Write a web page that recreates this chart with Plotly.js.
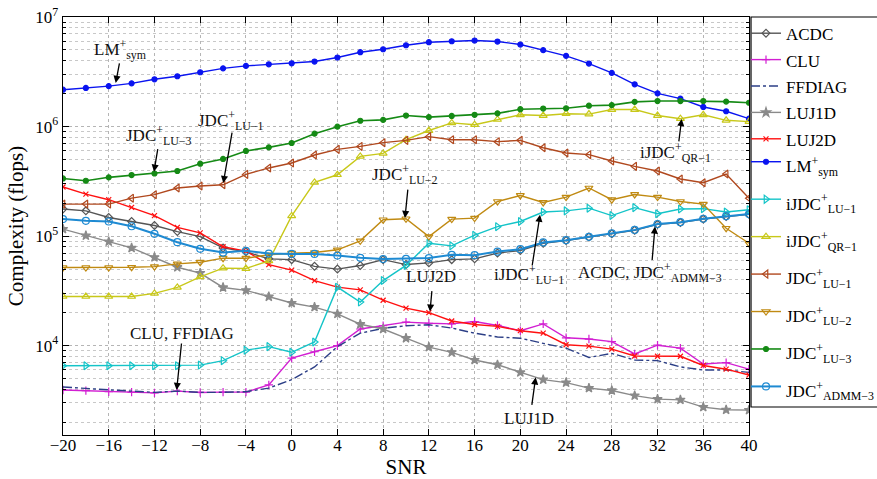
<!DOCTYPE html>
<html>
<head>
<meta charset="utf-8">
<script src="https://cdn.plot.ly/plotly-3.0.1.min.js"></script>
<style>html,body{margin:0;padding:0;background:#fff;}#chart{width:877px;height:479px;}</style>
</head>
<body>
<div id="chart"></div>
<script>
// SNR values (x axis)
const snr = [-20,-18,-16,-14,-12,-10,-8,-6,-4,-2,0,2,4,6,8,10,12,14,16,18,20,22,24,26,28,30,32,34,36,38,40];

// Complexity (flops) per algorithm
const acdc = [1.77e5,1.70e5,1.48e5,1.36e5,1.25e5,1.10e5,9.9e4,7.8e4,7.2e4,6.2e4,6.1e4,5.3e4,5.0e4,5.4e4,6.1e4,5.5e4,5.7e4,6.1e4,6.2e4,7.0e4,7.4e4,8.6e4,9.1e4,9.8e4,1.05e5,1.13e5,1.28e5,1.33e5,1.43e5,1.51e5,1.58e5];
const clu = [3.94e3,3.89e3,3.80e3,3.77e3,3.71e3,3.85e3,3.74e3,3.77e3,3.77e3,4.38e3,7.7e3,8.8e3,1.0e4,1.42e4,1.52e4,1.64e4,1.60e4,1.58e4,1.66e4,1.53e4,1.37e4,1.58e4,1.18e4,1.15e4,1.09e4,8.4e3,1.01e4,9.5e3,6.8e3,7.0e3,6.1e3];
const ffdiag = [4.2e3,4.05e3,3.95e3,3.85e3,3.75e3,3.85e3,3.75e3,3.75e3,3.8e3,4.1e3,4.9e3,6.4e3,9.8e3,1.30e4,1.44e4,1.52e4,1.55e4,1.45e4,1.30e4,1.20e4,1.17e4,1.05e4,9.5e3,7.8e3,8.5e3,7.4e3,7.3e3,6.4e3,6.0e3,6.0e3,5.7e3];
const luj1d = [1.16e5,1.01e5,8.9e4,7.8e4,6.4e4,5.2e4,4.6e4,3.4e4,3.2e4,2.8e4,2.45e4,2.25e4,1.95e4,1.57e4,1.42e4,1.17e4,9.7e3,8.7e3,7.4e3,6.7e3,5.7e3,4.9e3,4.6e3,4.1e3,3.9e3,3.5e3,3.25e3,3.2e3,2.75e3,2.6e3,2.58e3];
const luj2d = [2.81e5,2.42e5,2.15e5,1.83e5,1.54e5,1.20e5,1.07e5,8.0e4,7.3e4,5.5e4,4.9e4,3.93e4,3.42e4,3.23e4,2.6e4,2.2e4,2.0e4,1.68e4,1.56e4,1.5e4,1.37e4,1.30e4,1.02e4,9.9e3,9.3e3,8.05e3,8.0e3,8.0e3,6.6e3,6.1e3,5.4e3];
const lmsym = [2.17e6,2.25e6,2.34e6,2.48e6,2.70e6,2.88e6,3.13e6,3.40e6,3.58e6,3.70e6,3.78e6,3.92e6,4.27e6,4.77e6,5.08e6,5.52e6,5.89e6,6.01e6,6.10e6,5.97e6,5.61e6,4.98e6,4.42e6,3.76e6,3.09e6,2.43e6,2.01e6,1.80e6,1.51e6,1.38e6,1.18e6];
const ijdcLu1 = [6.56e3,6.56e3,6.56e3,6.56e3,6.56e3,6.56e3,6.65e3,7.3e3,9.1e3,9.8e3,8.7e3,1.08e4,3.42e4,2.5e4,3.93e4,5.4e4,8.6e4,8.15e4,1.02e5,1.22e5,1.36e5,1.66e5,1.70e5,1.80e5,1.54e5,1.82e5,1.60e5,1.77e5,1.78e5,1.66e5,1.74e5];
const ijdcQr1 = [2.81e4,2.81e4,2.81e4,2.81e4,3.0e4,3.4e4,4.25e4,5.1e4,5.06e4,5.95e4,1.53e5,3.09e5,3.63e5,5.34e5,5.69e5,7.6e5,9.2e5,1.08e6,1.04e6,1.16e6,1.28e6,1.26e6,1.31e6,1.30e6,1.43e6,1.43e6,1.26e6,1.18e6,1.28e6,1.14e6,1.11e6];
const jdcLu1 = [1.96e5,1.96e5,1.96e5,2.22e5,2.39e5,2.75e5,2.87e5,2.94e5,3.66e5,4.19e5,4.65e5,5.50e5,6.19e5,6.59e5,7.13e5,7.48e5,8.09e5,7.59e5,7.59e5,7.28e5,7.48e5,6.41e5,5.74e5,5.54e5,4.85e5,4.33e5,3.93e5,3.32e5,3.07e5,3.69e5,2.22e5];
const jdcLu2 = [5.17e4,5.17e4,5.17e4,5.2e4,5.27e4,5.58e4,5.78e4,6.29e4,6.29e4,6.75e4,6.98e4,7.08e4,7.5e4,9.06e4,1.41e5,1.44e5,9.9e4,1.43e5,1.46e5,2.07e5,2.35e5,2.03e5,2.27e5,2.75e5,2.15e5,2.40e5,2.27e5,2.07e5,1.96e5,1.18e5,8.6e4];
const jdcLu3 = [3.36e5,3.20e5,3.44e5,3.61e5,3.73e5,3.93e5,4.58e5,5.06e5,5.99e5,6.46e5,7.08e5,8.61e5,9.98e5,1.13e6,1.15e6,1.26e6,1.22e6,1.25e6,1.28e6,1.32e6,1.44e6,1.46e6,1.47e6,1.55e6,1.57e6,1.68e6,1.71e6,1.71e6,1.71e6,1.69e6,1.65e6];
const jdcAdmm3 = [1.43e5,1.38e5,1.36e5,1.23e5,1.05e5,8.8e4,7.66e4,7.08e4,7.34e4,6.93e4,6.88e4,6.88e4,6.65e4,6.34e4,6.17e4,6.2e4,6.3e4,6.75e4,6.7e4,7.23e4,7.6e4,8.75e4,9.19e4,9.86e4,1.06e5,1.14e5,1.29e5,1.34e5,1.44e5,1.52e5,1.59e5];

const xTicks = [-20,-16,-12,-8,-4,0,4,8,12,16,20,24,28,32,36,40];
const yTicks = [1e3,1e4,1e5,1e6,1e7];
const yTickText = ['10<sup>3</sup>','10<sup>4</sup>','10<sup>5</sup>','10<sup>6</sup>','10<sup>7</sup>'];

const FONT = 'Liberation Serif, Times New Roman, serif';
const W = 877, H = 479;

function tr(name, y, color, symbol, opts) {
  opts = opts || {};
  return {
    x: snr, y: y, name: name, type: 'scatter', mode: opts.mode || 'lines+markers',
    legend: opts.legend || 'legend',
    line: {color: color, width: opts.width || 1.4, dash: opts.dash || 'solid'},
    marker: {symbol: symbol, size: opts.size || 6, color: color, line: {color: color, width: 1.2}}
  };
}
function sm(t){ return '<span style="font-size:17px">' + t + '</span>'; }

const data = [
  tr(sm('ACDC'), acdc, '#555555', 'diamond-open', {size: 6}),
  tr(sm('CLU'), clu, '#d21fd2', 'cross-thin-open', {size: 6}),
  tr(sm('FFDIAG'), ffdiag, '#2c3f86', 'circle', {mode: 'lines', dash: 'dashdot'}),
  tr(sm('LUJ1D'), luj1d, '#8a8a8a', 'star', {size: 7}),
  tr(sm('LUJ2D'), luj2d, '#ff1010', 'x-thin-open', {size: 5}),
  tr(sm('LM<sup>+</sup><sub>sym</sub>'), lmsym, '#0a14f0', 'circle', {size: 5, legend: 'legend2'}),
  tr(sm('iJDC<sup>+</sup><sub>LU\u22121</sub>'), ijdcLu1, '#14c4c8', 'triangle-right-open', {size: 7, legend: 'legend2'}),
  tr(sm('iJDC<sup>+</sup><sub>QR\u22121</sub>'), ijdcQr1, '#c8c81a', 'triangle-up-open', {size: 7, legend: 'legend2'}),
  tr(sm('JDC<sup>+</sup><sub>LU\u22121</sub>'), jdcLu1, '#b0481e', 'triangle-left-open', {size: 7, legend: 'legend2'}),
  tr(sm('JDC<sup>+</sup><sub>LU\u22122</sub>'), jdcLu2, '#c08a12', 'triangle-down-open', {size: 7, legend: 'legend2'}),
  tr(sm('JDC<sup>+</sup><sub>LU\u22123</sub>'), jdcLu3, '#158a15', 'circle', {size: 5, width: 1.6, legend: 'legend2'}),
  tr(sm('JDC<sup>+</sup><sub>ADMM\u22123</sub>'), jdcAdmm3, '#1e8ad2', 'circle-open', {size: 7, width: 2, legend: 'legend2'})
];

function lg(v){ return Math.log10(v); }
const labels = [
  ['LM<sup>+</sup><sub>sym</sub>', -15.0, 5.1e6],
  ['JDC<sup>+</sup><sub>LU\u22123</sub>', -11.6, 8.3e5],
  ['JDC<sup>+</sup><sub>LU\u22121</sub>', -5.3, 1.13e6],
  ['JDC<sup>+</sup><sub>LU\u22122</sub>', 9.9, 3.65e5],
  ['iJDC<sup>+</sup><sub>QR\u22121</sub>', 33.6, 5.8e5],
  ['iJDC<sup>+</sup><sub>LU\u22121</sub>', 20.8, 4.43e4],
  ['ACDC, JDC<sup>+</sup><sub>ADMM\u22123</sub>', 31.3, 4.7e4],
  ['LUJ2D', 12.2, 4.3e4],
  ['LUJ1D', 20.8, 2.15e3],
  ['CLU, FFDIAG', -9.6, 1.29e4]
];
const arrows = [
  [-15.39, 6.3985, 4, -21],
  [-12.04, 5.588, 4, -24],
  [-5.98, 5.4845, 9, -52],
  [9.91, 5.1645, 3, -30],
  [34.11, 6.0695, -3, 24],
  [21.72, 5.195, -8, 52],
  [31.78, 5.088, -3, 35],
  [12.10, 4.311, 2, -22],
  [21.34, 3.711, -4, 29],
  [-10.06, 3.595, 5, -48]
];
const annotations = [];
labels.forEach(l => annotations.push({
  text: l[0], x: l[1], y: lg(l[2]), xref: 'x', yref: 'y', showarrow: false,
  font: {family: FONT, size: 17, color: '#111'}
}));
arrows.forEach(a => annotations.push({
  text: '', x: a[0], y: a[1], xref: 'x', yref: 'y', showarrow: true,
  ax: a[2], ay: a[3], arrowhead: 2, arrowsize: 1.1, arrowwidth: 1.3, arrowcolor: '#000'
}));

const legendBase = {
  xref: 'container', yref: 'container', xanchor: 'left', yanchor: 'top',
  bgcolor: 'rgba(0,0,0,0)', borderwidth: 0, tracegroupgap: 0, itemwidth: 30, maxheight: 320
};

const layout = {
  width: W, height: H,
  margin: {l: 63, r: 128, t: 17, b: 44, pad: 0, autoexpand: false},
  paper_bgcolor: '#fff', plot_bgcolor: '#fff',
  font: {family: FONT, size: 17, color: '#000'},
  showlegend: true,
  legend: Object.assign({}, legendBase, {x: 746 / W, y: 1 - 15 / H, font: {family: FONT, size: 18, color: '#000'}}),
  legend2: Object.assign({}, legendBase, {x: 746 / W, y: 1 - 138 / H, font: {family: FONT, size: 26.5, color: '#000'}}),
  shapes: [{type: 'rect', xref: 'paper', yref: 'paper', x0: (751 - 63) / 686, x1: (890 - 63) / 686,
            y0: (435 - 407) / 418, y1: 1, line: {color: '#000', width: 1.2}, fillcolor: 'rgba(0,0,0,0)'}],
  xaxis: {
    range: [-20, 40], tickmode: 'array', tickvals: xTicks,
    ticks: 'inside', ticklen: 6, tickcolor: '#000', mirror: 'allticks',
    showline: true, linecolor: '#000', linewidth: 1.3,
    showgrid: true, gridcolor: '#b5b5b5', griddash: 'dot', gridwidth: 1,
    zeroline: false, tickfont: {family: FONT, size: 17}, ticklabelstandoff: -6,
    title: {text: 'SNR', font: {family: FONT, size: 21}, standoff: 0}
  },
  yaxis: {
    type: 'log', range: [Math.log10(1530), 7],
    tickmode: 'array', tickvals: yTicks, ticktext: yTickText,
    ticks: 'inside', ticklen: 6, tickcolor: '#000', mirror: 'allticks',
    showline: true, linecolor: '#000', linewidth: 1.3,
    showgrid: true, gridcolor: '#b5b5b5', griddash: 'dot', gridwidth: 1,
    minor: {dtick: 'D1', ticks: 'inside', ticklen: 3, tickcolor: '#000', showgrid: true, gridcolor: '#c8c8c8', griddash: 'dot', gridwidth: 1},
    zeroline: false, tickfont: {family: FONT, size: 17},
    title: {text: 'Complexity (flops)', font: {family: FONT, size: 21}, standoff: 6}
  },
  annotations: annotations
};

Plotly.newPlot('chart', data, layout, {displayModeBar: false, staticPlot: true});
</script>
</body>
</html>
